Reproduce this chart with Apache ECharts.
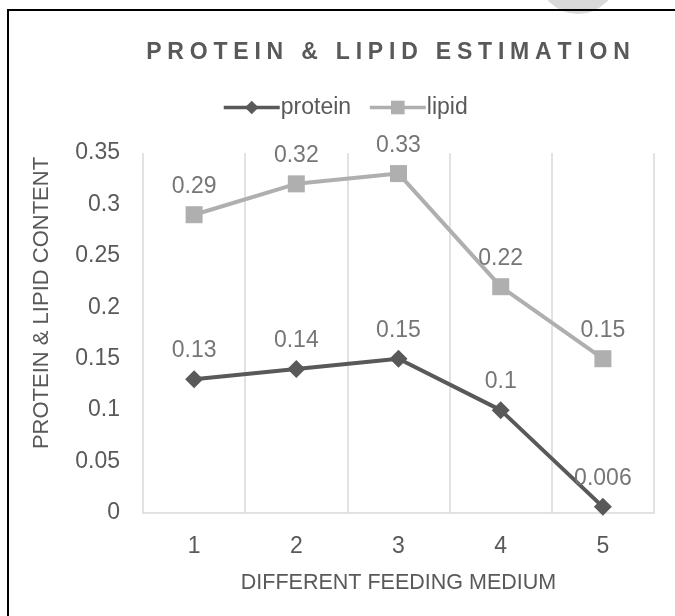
<html>
<head>
    <meta charset="utf-8">
    <title>Chart</title>
    <script src="https://cdn.jsdelivr.net/npm/echarts@6/dist/echarts.min.js"></script>
    <style>
        html, body { margin: 0; padding: 0; background: #fff; }
        #main { width: 675px; height: 616px; }
    </style>
</head>
<body>
    <div id="main"></div>
    <script type="text/javascript">
        // data
        var categories = ['1', '2', '3', '4', '5'];
        var protein = [0.13, 0.14, 0.15, 0.1, 0.006];
        var lipid = [0.29, 0.32, 0.33, 0.22, 0.15];
        var titleText = 'PROTEIN & LIPID ESTIMATION';

        var dark = '#595959';
        var light = '#afafaf';
        var font = 'Liberation Sans, Arial, sans-serif';

        var myChart = echarts.init(document.getElementById('main'));

        // wide letter spacing for the title, one rich token per character
        var spacedTitle = titleText.split('').map(function (c) {
            return '{s|' + c + '}';
        }).join('');

        option = {
            animation: false,
            textStyle: { fontFamily: font },
            graphic: [
                {
                    type: 'circle',
                    shape: { cx: 578, cy: -26, r: 40 },
                    style: { fill: '#d9d9d9' },
                    z: 0
                },
                {
                    type: 'rect',
                    shape: { x: 8, y: 10, width: 700, height: 650 },
                    style: { fill: 'none', stroke: '#000', lineWidth: 2 },
                    z: 1
                }
            ],
            title: {
                text: spacedTitle,
                left: 383,
                top: 36,
                textAlign: 'center',
                textStyle: {
                    rich: {
                        s: {
                            fontSize: 23,
                            fontWeight: 'bold',
                            color: dark,
                            padding: [0, 2.9, 0, 2.9],
                            fontFamily: font
                        }
                    }
                }
            },
            legend: {
                top: 91,
                left: 217,
                itemWidth: 56,
                itemHeight: 17,
                itemGap: 17,
                lineStyle: { width: 3.5 },
                textStyle: { fontSize: 23, color: dark, padding: [0, 0, 0, -4] },
                data: ['protein', 'lipid']
            },
            grid: {
                left: 143,
                right: 21,
                top: 153,
                bottom: 103
            },
            xAxis: {
                type: 'category',
                data: categories,
                boundaryGap: true,
                name: 'DIFFERENT FEEDING MEDIUM',
                nameLocation: 'middle',
                nameGap: 59,
                nameTextStyle: { fontSize: 21.5, color: dark },
                axisLine: { lineStyle: { color: '#d9d9d9', width: 1.5 } },
                axisTick: { show: false },
                axisLabel: { fontSize: 23, color: dark, margin: 22 },
                splitLine: { show: true, lineStyle: { color: '#d9d9d9', width: 1.5 } }
            },
            yAxis: {
                type: 'value',
                min: 0,
                max: 0.35,
                interval: 0.05,
                name: 'PROTEIN & LIPID CONTENT',
                nameLocation: 'middle',
                nameGap: 90,
                nameTextStyle: { fontSize: 22, color: dark, padding: [0, 0, 0, 60] },
                axisLine: { show: false },
                axisTick: { show: false },
                axisLabel: { fontSize: 23, color: dark, margin: 23 },
                splitLine: { show: false }
            },
            series: [
                {
                    name: 'protein',
                    type: 'line',
                    data: protein,
                    symbol: 'diamond',
                    symbolSize: 18,
                    lineStyle: { color: dark, width: 4 },
                    itemStyle: { color: dark },
                    label: { show: true, position: 'top', distance: 8, fontSize: 23, color: '#767676' },
                    z: 3
                },
                {
                    name: 'lipid',
                    type: 'line',
                    data: lipid,
                    symbol: 'rect',
                    symbolSize: 17,
                    lineStyle: { color: light, width: 4 },
                    itemStyle: { color: light },
                    label: { show: true, position: 'top', distance: 8, fontSize: 23, color: '#767676' },
                    z: 2
                }
            ]
        };
        myChart.setOption(option);
    </script>
</body>
</html>
